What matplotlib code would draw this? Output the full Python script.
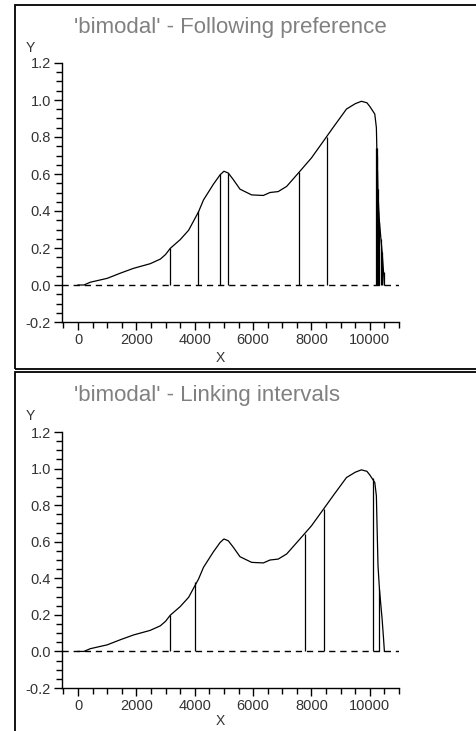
import numpy as np
import matplotlib.pyplot as plt
from matplotlib.patches import Rectangle
from matplotlib.ticker import MultipleLocator

plt.rcParams['font.family'] = ['Liberation Sans', 'DejaVu Sans']

# curve 'bimodal'
curve_x = [0, 200, 420, 1000, 1450, 1900, 2470, 2820, 3000, 3160, 3500, 3790, 4130, 4300,
           4640, 4870, 5000, 5150, 5320, 5550, 5950, 6350, 6580, 6860, 7150, 7550, 8000,
           8520, 8740, 9200, 9500, 9710, 9900, 10000, 10170, 10225, 10240, 10280, 10330,
           10380, 10420, 10470, 10500]
curve_y = [0.0, 0.0, 0.015, 0.036, 0.064, 0.09, 0.115, 0.14, 0.165, 0.198, 0.245, 0.296, 0.396, 0.46,
           0.545, 0.596, 0.615, 0.605, 0.57, 0.518, 0.487, 0.484, 0.5, 0.505, 0.533, 0.605, 0.687,
           0.802, 0.851, 0.951, 0.98, 0.993, 0.985, 0.965, 0.924, 0.85, 0.74, 0.47, 0.34,
           0.25, 0.18, 0.07, 0.0]

# vertical lines, top panel
pref_x = [3150, 4100, 4860, 5150, 7580, 8520, 10220, 10232, 10244, 10256, 10268, 10280,
          10295, 10330, 10380, 10420, 10470]
pref_h = [0.198, 0.40, 0.60, 0.605, 0.61, 0.80, 0.74, 0.74, 0.70, 0.62, 0.52, 0.45,
          0.40, 0.34, 0.25, 0.18, 0.07]

# vertical lines, bottom panel
link_x = [3150, 4010, 7780, 8430, 10100, 10330]
link_h = [0.198, 0.378, 0.641, 0.781, 0.95, 0.34]

titles = ["'bimodal' - Following preference", "'bimodal' - Linking intervals"]

W, H = 476, 731
fig = plt.figure(figsize=(W / 100, H / 100), dpi=100)

def fx(px):
    return px / W

def fy(py):
    return 1 - py / H

# panel frames
fig.add_artist(Rectangle((fx(15), fy(369)), fx(480 - 15), (369 - 4.5) / H,
                         transform=fig.transFigure, fill=False, lw=1.3, ec='black'))
fig.add_artist(Rectangle((fx(15), fy(745)), fx(480 - 15), (745 - 372) / H,
                         transform=fig.transFigure, fill=False, lw=1.3, ec='black'))

panels = [
    dict(top=63, bot=322, off=0, xlab=358, lx=pref_x, lh=pref_h),
    dict(top=432, bot=688, off=368, xlab=721, lx=link_x, lh=link_h),
]

for i, p in enumerate(panels):
    ax = fig.add_axes([fx(62), fy(p['bot']), fx(399 - 62), (p['bot'] - p['top']) / H])
    ax.plot(curve_x, curve_y, color='black', lw=0.9)
    ax.vlines(p['lx'], 0, p['lh'], color='black', lw=0.9)
    ax.axhline(0, color='black', lw=1.0, ls=(0, (4.5, 3.5)))
    ax.set_xlim(-550, 11000)
    ax.set_ylim(-0.2, 1.2)
    ax.set_xticks([0, 2000, 4000, 6000, 8000, 10000])
    ax.set_yticks([-0.2, 0.0, 0.2, 0.4, 0.6, 0.8, 1.0, 1.2])
    ax.set_yticklabels(['-0.2', '0.0', '0.2', '0.4', '0.6', '0.8', '1.0', '1.2'])
    ax.xaxis.set_minor_locator(MultipleLocator(500))
    ax.yaxis.set_minor_locator(MultipleLocator(0.05))
    for s in ['top', 'right']:
        ax.spines[s].set_visible(False)
    ax.spines['left'].set_linewidth(1.0)
    ax.spines['bottom'].set_linewidth(1.0)
    ax.tick_params(which='major', length=6, width=1.0, labelsize=10.5, labelcolor='#333333', pad=2)
    ax.tick_params(which='minor', length=4, width=1.0)
    ax.patch.set_alpha(0)

    off = p['off']
    fig.text(fx(74), fy(27 + off), titles[i], ha='left', va='center',
             fontsize=16, color='#808080')
    fig.text(fx(30), fy(48 + off), 'Y', ha='center', va='center', fontsize=10, color='#333333')
    fig.text(fx(220), fy(p['xlab']), 'X', ha='center', va='center', fontsize=10, color='#333333')

fig.savefig('out.png', dpi=100, facecolor='white')
